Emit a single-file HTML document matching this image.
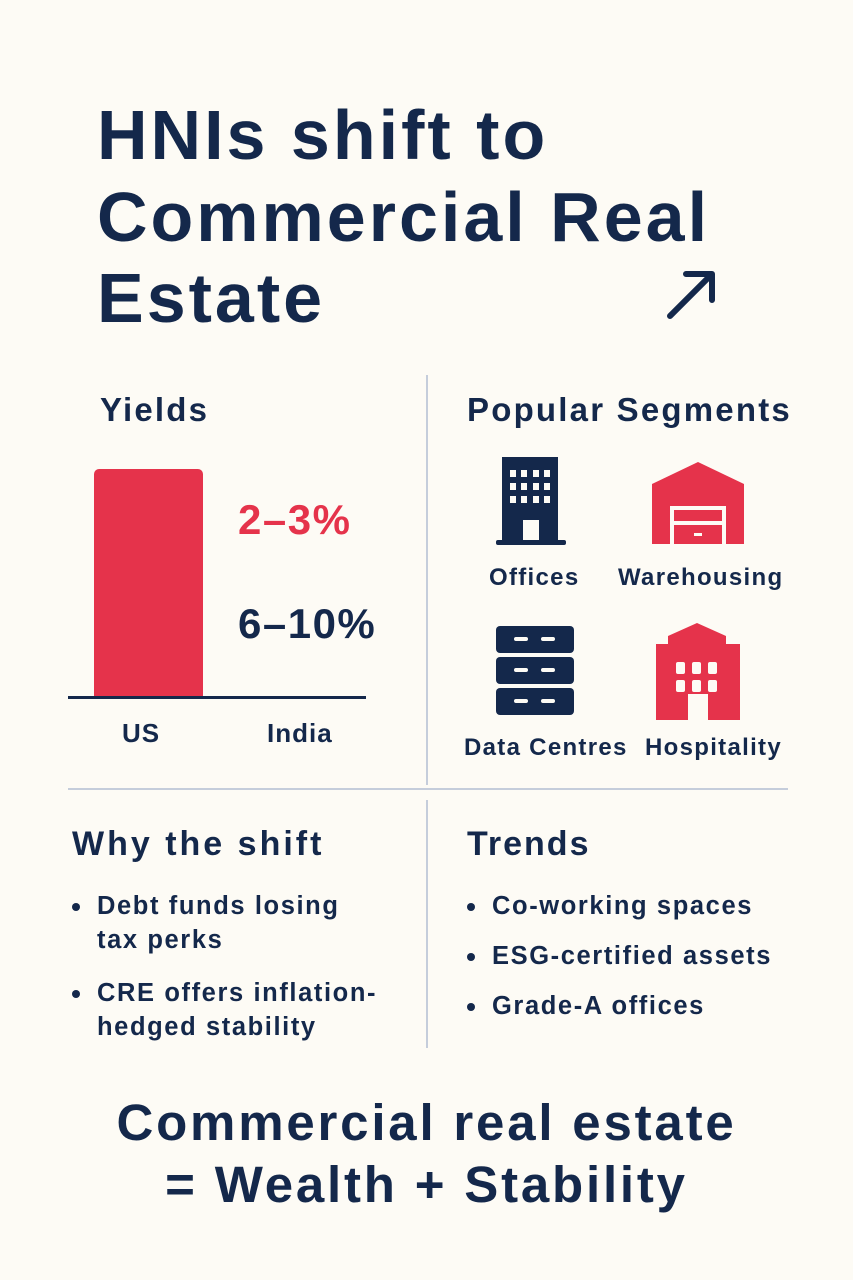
<!DOCTYPE html>
<html><head><meta charset="utf-8"><style>
body{margin:0;width:853px;height:1280px;background:#fdfbf5;position:relative;overflow:hidden;font-family:"Liberation Sans",sans-serif;color:#14284b}
.a{position:absolute;white-space:nowrap}
.t{font-weight:bold;font-size:70px;left:97px;line-height:1;letter-spacing:3px}
.h{font-size:33px;font-weight:bold;letter-spacing:2.2px}
.l{font-size:24px;font-weight:bold;letter-spacing:1.3px}
.b{font-size:25.5px;line-height:34px;font-weight:bold;letter-spacing:1.6px}
.dot{position:absolute;width:8px;height:8px;border-radius:50%;background:#14284b}
</style></head><body>
<div class="a t" style="top:100px">HNIs shift to</div>
<div class="a t" style="top:182px">Commercial Real</div>
<div class="a t" style="top:263px">Estate</div>
<svg class="a" style="left:662px;top:266px" width="60" height="58"><path d="M8 50 L50 8 M24 8 H50 V34" stroke="#14284b" stroke-width="6" fill="none" stroke-linecap="round" stroke-linejoin="round"/></svg>

<div class="a" style="left:426px;top:375px;width:2px;height:410px;background:#c5cddb"></div>
<div class="a" style="left:426px;top:800px;width:2px;height:248px;background:#c5cddb"></div>
<div class="a" style="left:68px;top:788px;width:720px;height:2px;background:#c5cddb"></div>

<div class="a h" style="left:100px;top:391px">Yields</div>
<div class="a h" style="left:467px;top:391px">Popular Segments</div>

<div class="a" style="left:94px;top:469px;width:109px;height:229px;background:#e5334b;border-radius:5px 5px 0 0"></div>
<div class="a" style="left:68px;top:696px;width:298px;height:3px;background:#14284b"></div>
<div class="a" style="left:238px;top:496px;font-size:42px;font-weight:bold;letter-spacing:1.5px;color:#e5334b">2–3%</div>
<div class="a" style="left:238px;top:600px;font-size:42px;font-weight:bold;letter-spacing:1.5px">6–10%</div>
<div class="a" style="left:122px;top:718px;font-size:26px;font-weight:bold;letter-spacing:1px">US</div>
<div class="a" style="left:267px;top:718px;font-size:26px;font-weight:bold;letter-spacing:1px">India</div>

<svg class="a" style="left:495px;top:455px" width="80" height="95">
<rect x="7" y="2" width="56" height="86" fill="#14284b"/>
<rect x="1" y="85" width="70" height="5" rx="2" fill="#14284b"/>
<g fill="#fdfbf5"><rect x="15" y="15" width="6" height="7"/><rect x="26" y="15" width="6" height="7"/><rect x="38" y="15" width="6" height="7"/><rect x="49" y="15" width="6" height="7"/>
<rect x="15" y="28" width="6" height="7"/><rect x="26" y="28" width="6" height="7"/><rect x="38" y="28" width="6" height="7"/><rect x="49" y="28" width="6" height="7"/>
<rect x="15" y="41" width="6" height="7"/><rect x="26" y="41" width="6" height="7"/><rect x="38" y="41" width="6" height="7"/><rect x="49" y="41" width="6" height="7"/>
<rect x="28" y="65" width="16" height="20"/></g></svg>
<svg class="a" style="left:650px;top:460px" width="100" height="86">
<path d="M2 24 L48 2 L94 24 V84 H2Z" fill="#e5334b"/>
<rect x="20" y="46" width="56" height="38" fill="#fdfbf5"/>
<rect x="24" y="50" width="48" height="11" fill="#e5334b"/><rect x="24" y="65" width="48" height="19" fill="#e5334b"/>
<rect x="44" y="73" width="8" height="3" fill="#fdfbf5"/></svg>
<div class="a l" style="left:489px;top:564px">Offices</div>
<div class="a l" style="left:618px;top:564px">Warehousing</div>

<svg class="a" style="left:495px;top:625px" width="82" height="95" fill="#14284b">
<rect x="1" y="1" width="78" height="27" rx="4"/><rect x="1" y="32" width="78" height="27" rx="4"/><rect x="1" y="63" width="78" height="27" rx="4"/>
<g stroke="#fdfbf5" stroke-width="4" stroke-linecap="round"><path d="M21 14H31M48 14H58M21 45H31M48 45H58M21 76H31M48 76H58"/></g></svg>
<svg class="a" style="left:654px;top:622px" width="90" height="100">
<path d="M2 22 H14 V14 L43 1 L72 14 V22 H86 V98 H54 V72 H34 V98 H2Z" fill="#e5334b"/>
<g fill="#fdfbf5"><rect x="22" y="40" width="9" height="12" rx="2"/><rect x="38" y="40" width="9" height="12" rx="2"/><rect x="54" y="40" width="9" height="12" rx="2"/>
<rect x="22" y="58" width="9" height="12" rx="2"/><rect x="38" y="58" width="9" height="12" rx="2"/><rect x="54" y="58" width="9" height="12" rx="2"/></g></svg>
<div class="a l" style="left:464px;top:734px">Data Centres</div>
<div class="a l" style="left:645px;top:734px">Hospitality</div>

<div class="a h" style="left:72px;top:825px;font-size:34px;letter-spacing:3px">Why the shift</div>
<div class="a h" style="left:467px;top:825px;font-size:34px;letter-spacing:2px">Trends</div>

<div class="dot" style="left:72px;top:903px"></div>
<div class="a b" style="left:97px;top:889px">Debt funds losing<br>tax perks</div>
<div class="dot" style="left:72px;top:990px"></div>
<div class="a b" style="left:97px;top:976px">CRE offers inflation-<br>hedged stability</div>

<div class="dot" style="left:467px;top:903px"></div>
<div class="a b" style="left:492px;top:889px">Co-working spaces</div>
<div class="dot" style="left:467px;top:953px"></div>
<div class="a b" style="left:492px;top:939px">ESG-certified assets</div>
<div class="dot" style="left:467px;top:1003px"></div>
<div class="a b" style="left:492px;top:989px">Grade-A offices</div>

<div class="a" style="left:0;width:853px;text-align:center;top:1092px;font-size:51px;font-weight:bold;line-height:62px;letter-spacing:2.8px">Commercial real estate<br>= Wealth + Stability</div>
</body></html>
